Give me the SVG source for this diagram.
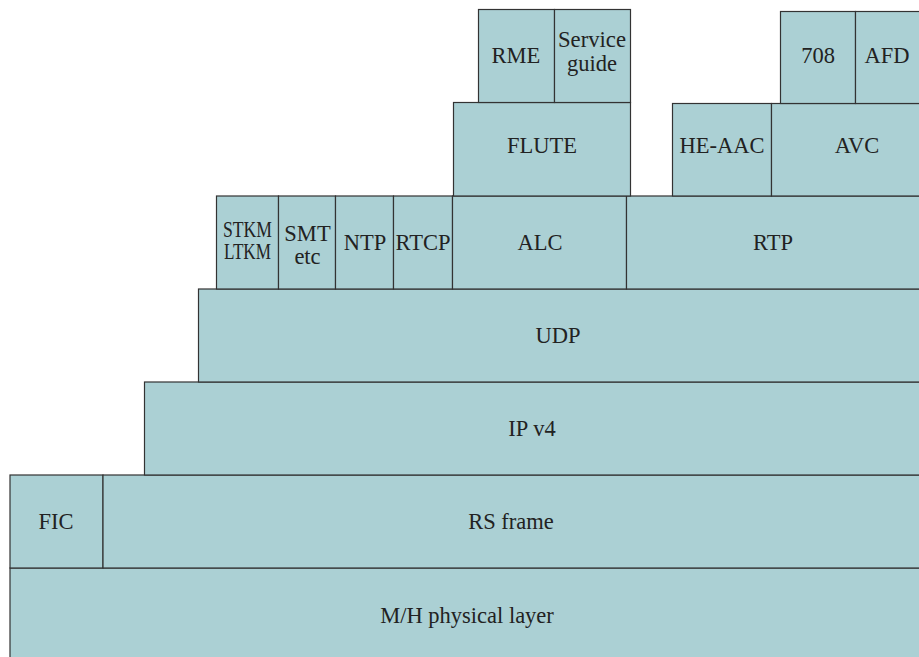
<svg xmlns="http://www.w3.org/2000/svg" width="919" height="657" viewBox="0 0 919 657">
<style>
.b{fill:#abd0d4;stroke:#333;stroke-width:1.2}
.t{font-family:'Liberation Serif','Times New Roman',serif;font-size:22.5px;fill:#222;text-anchor:middle}
</style>
<rect width="919" height="657" fill="#fff"/>
<g id="phy"><rect class="b" x="10" y="568" width="912" height="95"/><text class="t" x="467" y="623">M/H physical layer</text></g>
<g id="fic"><rect class="b" x="10" y="475" width="93" height="93"/><text class="t" x="56" y="529">FIC</text></g>
<g id="rs"><rect class="b" x="103" y="475" width="819" height="93"/><text class="t" x="511" y="529">RS frame</text></g>
<g id="ip"><rect class="b" x="144.5" y="382" width="777" height="93"/><text class="t" x="532" y="436">IP v4</text></g>
<g id="udp"><rect class="b" x="198.5" y="289" width="723" height="93"/><text class="t" x="558" y="343">UDP</text></g>
<g id="stkm"><rect class="b" x="216.5" y="196" width="62" height="93"/><text class="t" font-size="15.5"><tspan x="247.5" y="237" textLength="49" lengthAdjust="spacingAndGlyphs">STKM</tspan><tspan x="247.5" y="259" textLength="47" lengthAdjust="spacingAndGlyphs">LTKM</tspan></text></g>
<g id="smt"><rect class="b" x="278.5" y="196" width="57" height="93"/><text class="t" font-size="24"><tspan x="307.5" y="241">SMT</tspan><tspan x="307.5" y="264">etc</tspan></text></g>
<g id="ntp"><rect class="b" x="335.5" y="196" width="58" height="93"/><text class="t" x="365" y="250">NTP</text></g>
<g id="rtcp"><rect class="b" x="393.5" y="196" width="59" height="93"/><text class="t" x="423" y="250" font-size="21">RTCP</text></g>
<g id="alc"><rect class="b" x="452.5" y="196" width="174" height="93"/><text class="t" x="540" y="250">ALC</text></g>
<g id="rtp"><rect class="b" x="626.5" y="196" width="296" height="93"/><text class="t" x="773" y="250">RTP</text></g>
<g id="flute"><rect class="b" x="453.5" y="102.5" width="177" height="93.5"/><text class="t" x="542" y="153">FLUTE</text></g>
<g id="heaac"><rect class="b" x="672.5" y="103.5" width="99" height="92.5"/><text class="t" x="722" y="153">HE-AAC</text></g>
<g id="avc"><rect class="b" x="771.5" y="103.5" width="151" height="92.5"/><text class="t" x="857" y="153">AVC</text></g>
<g id="rme"><rect class="b" x="478.5" y="9.5" width="76" height="93"/><text class="t" x="516" y="63">RME</text></g>
<g id="sg"><rect class="b" x="554.5" y="9.5" width="76" height="93"/><text class="t" font-size="20.5"><tspan x="592" y="47" textLength="68" lengthAdjust="spacingAndGlyphs">Service</tspan><tspan x="592" y="71">guide</tspan></text></g>
<g id="n708"><rect class="b" x="780.5" y="11.5" width="75" height="92"/><text class="t" x="818" y="63">708</text></g>
<g id="afd"><rect class="b" x="855.5" y="11.5" width="67" height="92"/><text class="t" x="887" y="63">AFD</text></g>
<g id="connectors"/>
</svg>
